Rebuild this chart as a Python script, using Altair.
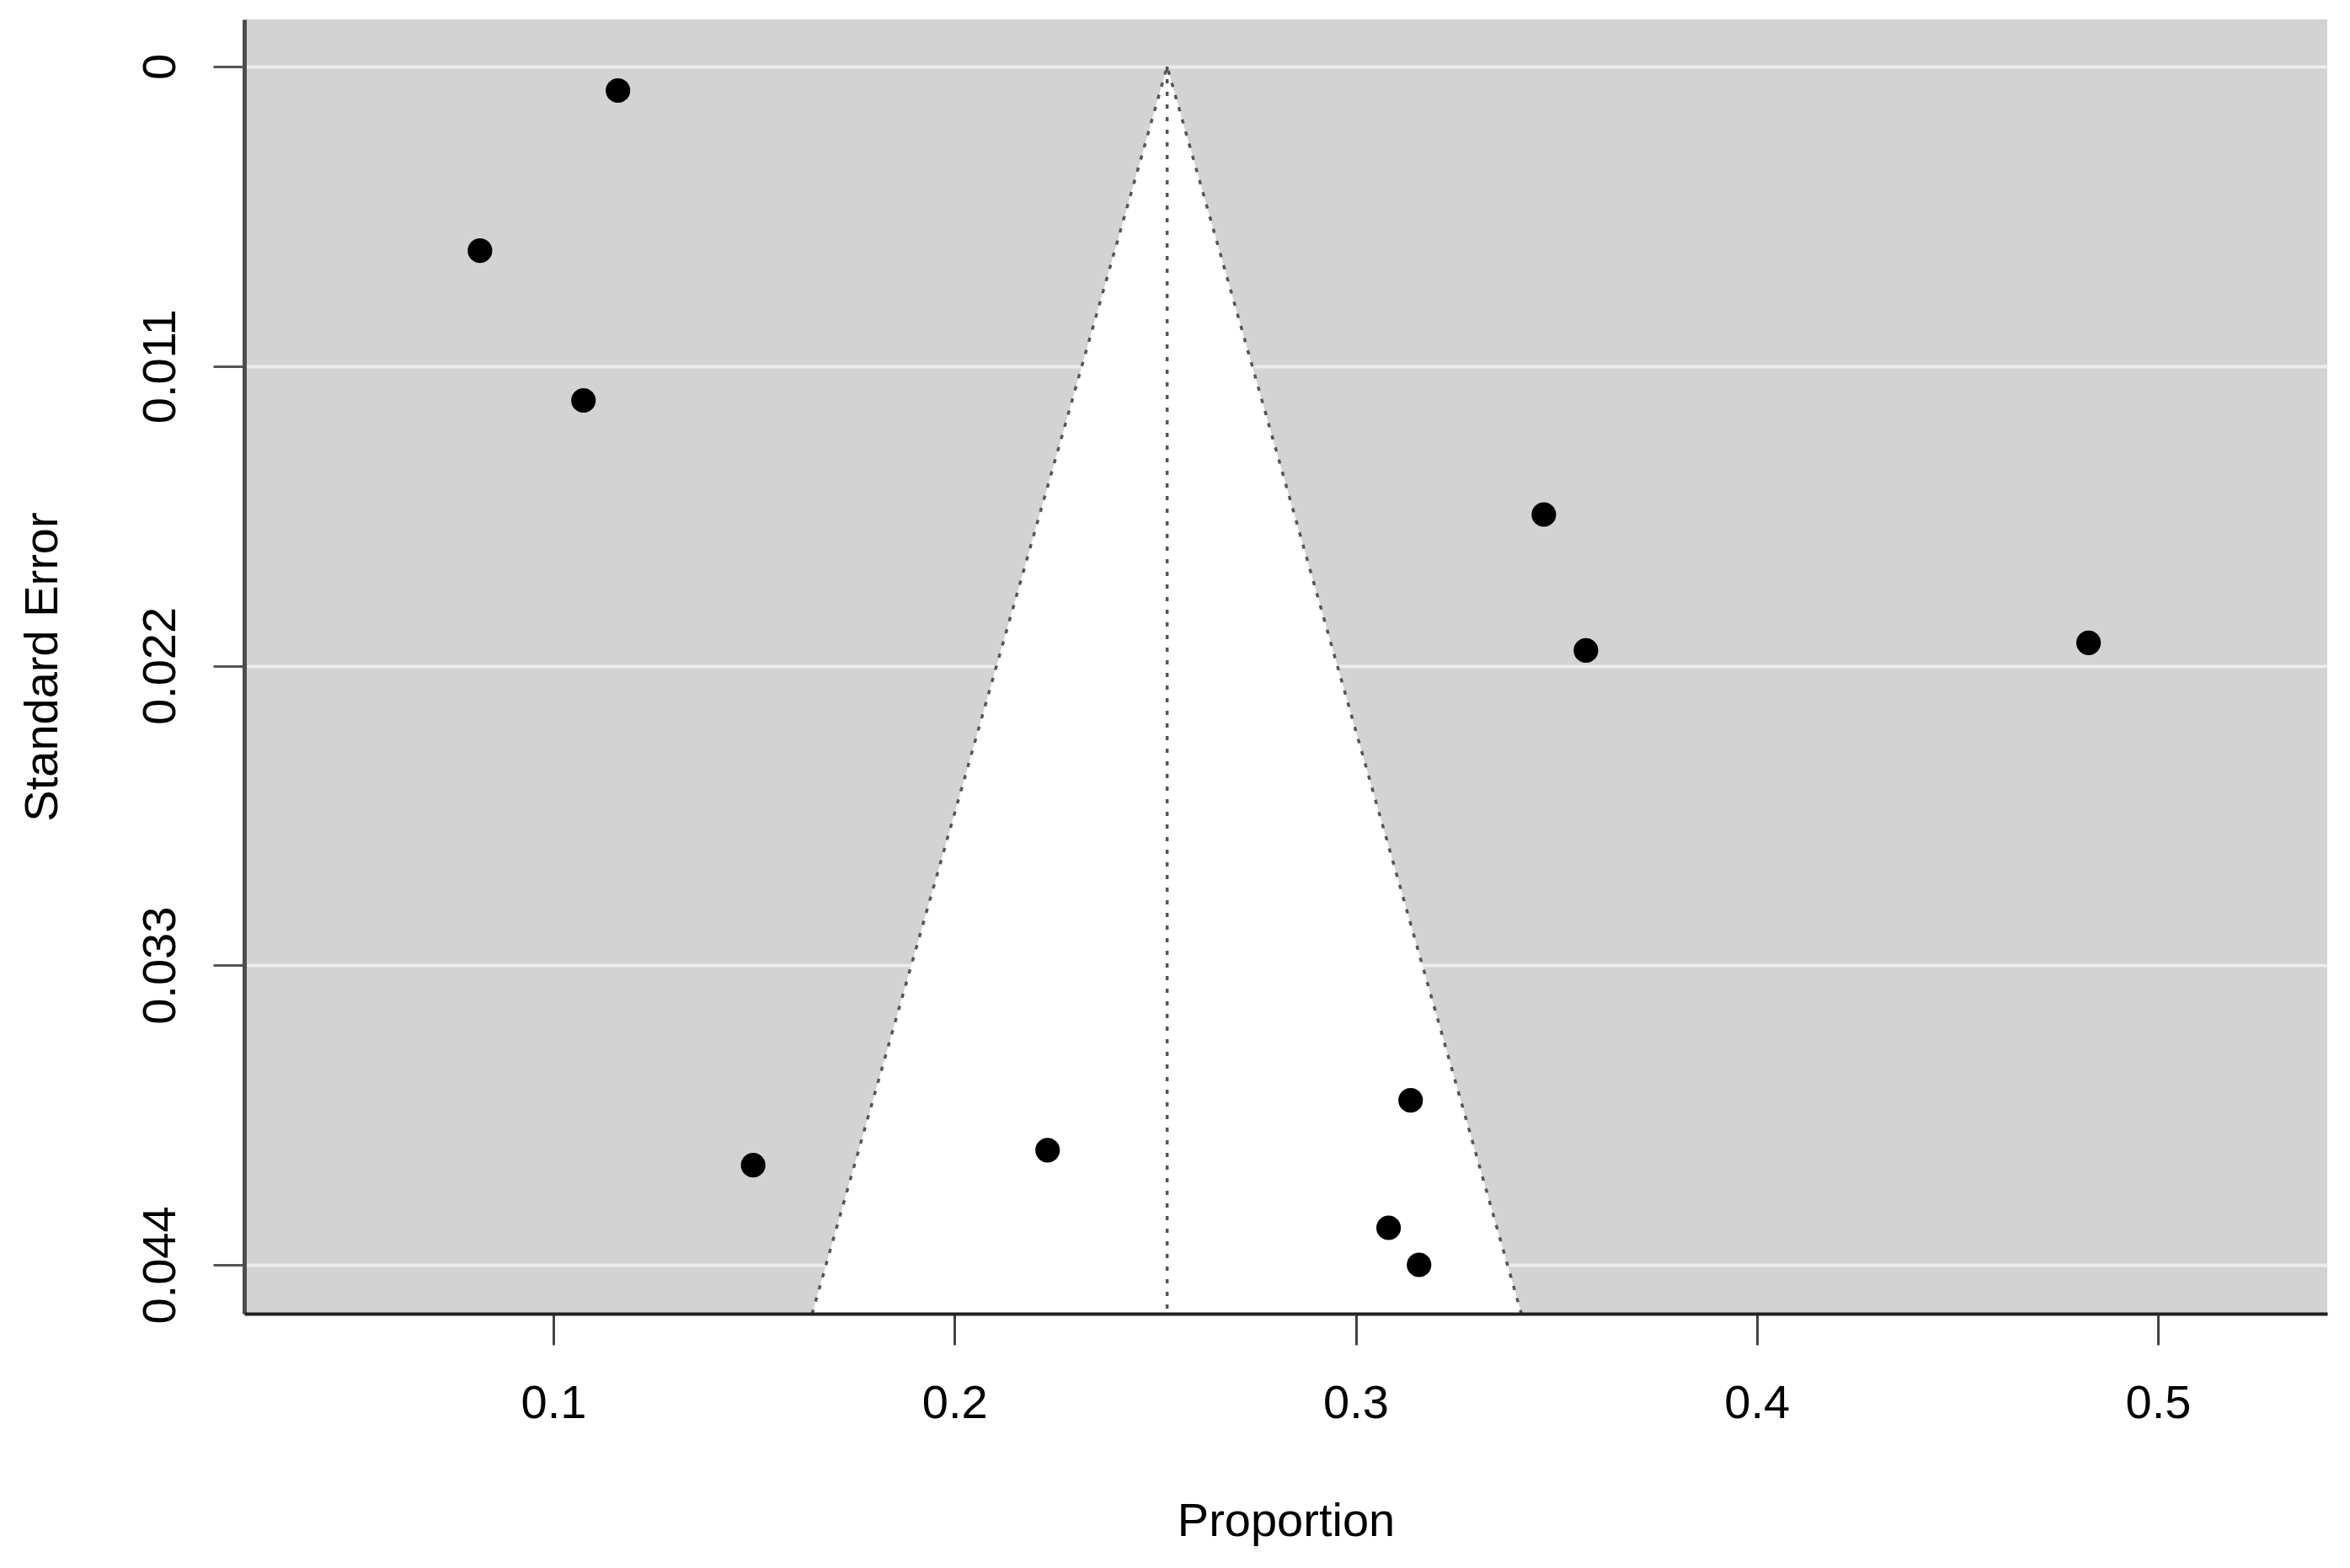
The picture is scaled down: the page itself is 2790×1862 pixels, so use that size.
import altair as alt
import pandas as pd

# Study estimates (proportion) and their standard errors
prop = [0.1161, 0.0817, 0.1075, 0.3469, 0.3574, 0.4827, 0.1498, 0.2232, 0.3137, 0.3082, 0.3158]
se = [0.00088, 0.00676, 0.01226, 0.01645, 0.02144, 0.02116, 0.04034, 0.03979, 0.03796, 0.04264, 0.0440]

# Funnel (pooled estimate and its pseudo-confidence limits at the bottom of the plot)
apex = 0.2530
funnel_left = 0.1645
funnel_right = 0.3413
se_max = 0.045793
se_min = -0.001732

x_domain = [0.02294, 0.5422]
x_ticks = [0.1, 0.2, 0.3, 0.4, 0.5]
y_ticks = [0, 0.011, 0.022, 0.033, 0.044]

FONT = "Liberation Sans"

points_df = pd.DataFrame({"prop": prop, "se": se})
funnel_df = pd.DataFrame({"se": [0, se_max], "lo": [apex, funnel_left], "hi": [apex, funnel_right]})
edge_df = pd.DataFrame({"prop": [funnel_left, apex, funnel_right], "se": [se_max, 0, se_max], "k": [0, 1, 2]})
center_df = pd.DataFrame({"prop": [apex], "se0": [0], "se1": [se_max]})

xscale = alt.Scale(domain=x_domain, nice=False, zero=False)
yscale = alt.Scale(domain=[se_min, se_max], nice=False, zero=False, reverse=True)

x_axis = alt.Axis(
    values=x_ticks, format=".1f", grid=False,
    tickSize=37, tickWidth=3, tickColor="#444",
    domainColor="#222", domainWidth=4,
    labelFont=FONT, labelFontSize=56, labelColor="black",
    labelBaseline="alphabetic", labelPadding=86, labelFlush=False, labelOverlap=False,
    title="Proportion", titleFont=FONT, titleFontSize=56, titleFontWeight="normal",
    titleColor="black", titleBaseline="alphabetic", titleY=263, zindex=1,
)
y_axis = alt.Axis(
    values=y_ticks, format=".3~f", grid=True, gridColor="#ECECEC", gridWidth=4,
    tickSize=37, tickWidth=3, tickColor="#555",
    domainColor="#4d4d4d", domainWidth=5,
    labelFont=FONT, labelFontSize=56, labelColor="black",
    labelAngle=270, labelAlign="center", labelBaseline="alphabetic",
    labelPadding=46, labelFlush=False, labelOverlap=False,
    title="Standard Error", titleFont=FONT, titleFontSize=56, titleFontWeight="normal",
    titleColor="black", titleAngle=270, titleAlign="center", titleBaseline="alphabetic",
    titleX=-223, titleY=768.5, zindex=0,
)

funnel = alt.Chart(funnel_df).mark_area(orient="horizontal", color="white", opacity=1).encode(
    y=alt.Y("se:Q", scale=yscale, axis=y_axis),
    x=alt.X("lo:Q", scale=xscale, axis=x_axis),
    x2="hi:Q",
)

edges = alt.Chart(edge_df).mark_line(color="#555", strokeWidth=3.5, strokeDash=[5, 10]).encode(
    x=alt.X("prop:Q", scale=xscale, axis=x_axis),
    y=alt.Y("se:Q", scale=yscale, axis=y_axis),
    order="k:Q",
)

center = alt.Chart(center_df).mark_rule(color="#555", strokeWidth=3.5, strokeDash=[5, 10]).encode(
    x=alt.X("prop:Q", scale=xscale, axis=x_axis),
    y=alt.Y("se0:Q", scale=yscale, axis=y_axis),
    y2="se1:Q",
)

pts = alt.Chart(points_df).mark_circle(color="black", opacity=1, size=850).encode(
    x=alt.X("prop:Q", scale=xscale, axis=x_axis),
    y=alt.Y("se:Q", scale=yscale, axis=y_axis),
)

chart = (
    alt.layer(funnel, edges, center, pts)
    .properties(
        width=2473, height=1537,
        autosize=alt.AutoSizeParams(type="none"),
        padding={"left": 282, "top": 15, "right": 19, "bottom": 294},
        background="white",
    )
    .configure_view(fill="#D3D3D3", stroke=None)
)

chart.save("out.html", embed_options={"renderer": "svg", "actions": False})
